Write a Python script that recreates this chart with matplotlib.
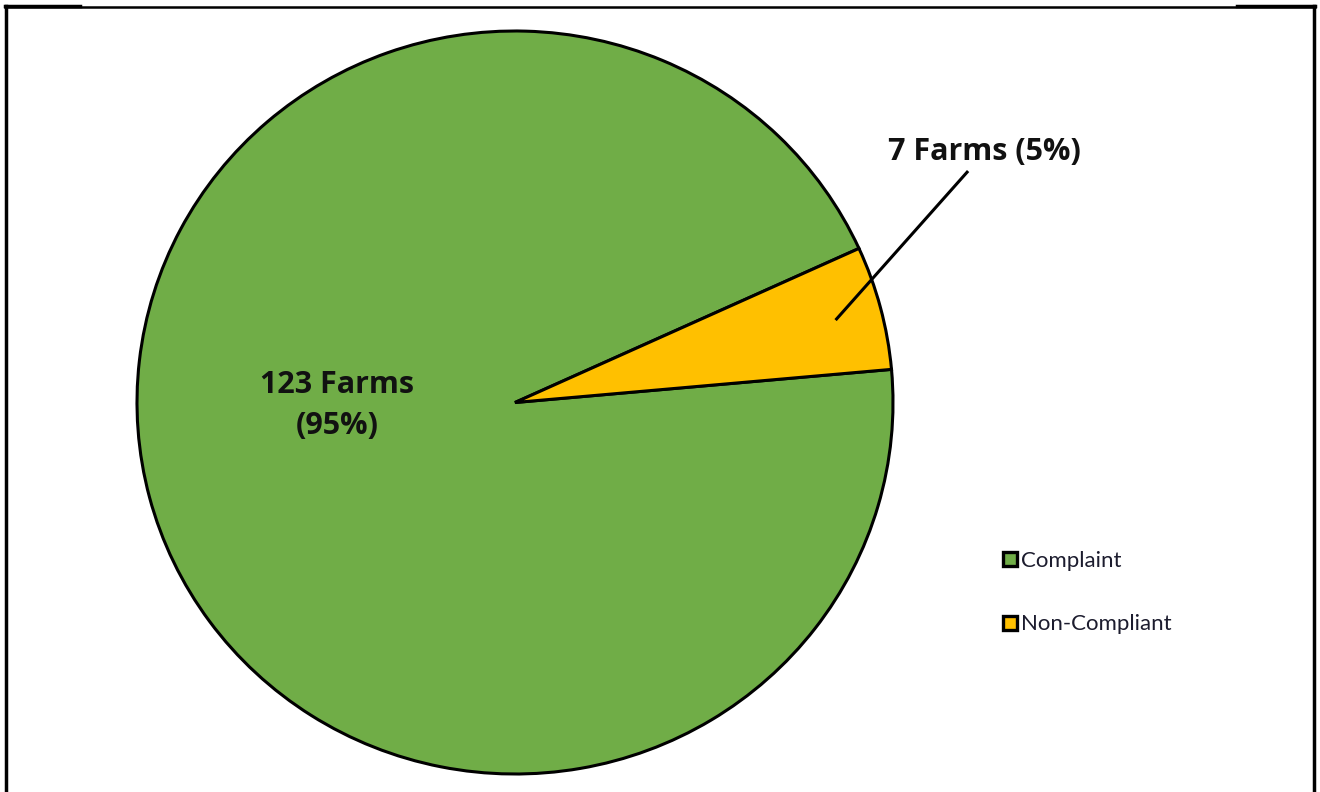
import numpy as np
import matplotlib.pyplot as plt
from matplotlib.lines import Line2D

# Data
labels = ['Complaint', 'Non-Compliant']
farms = [123, 7]
pct_text = ['95%', '5%']
colors = ['#70AD47', '#FFC000']

plt.rcParams['font.family'] = ['Lato', 'DejaVu Sans']

fig = plt.figure(figsize=(13.2, 7.92), dpi=100)

# axes sized to the (slightly oval) pie
ax = fig.add_axes([137 / 1320, 18 / 792, 756 / 1320, 743 / 792])
wedges, _ = ax.pie(farms, colors=colors, startangle=24.5, counterclock=True,
                   wedgeprops=dict(edgecolor='black', linewidth=2.2))
ax.set_aspect('auto')
ax.set_xlim(-1, 1)
ax.set_ylim(-1, 1)

lbl_font = dict(family=['Open Sans', 'DejaVu Sans'], fontsize=22, fontweight='bold',
                color='#111111')

# big slice label
ax.text(-0.47, -0.008, f'{farms[0]} Farms\n({pct_text[0]})', ha='center', va='center',
        linespacing=1.5, **lbl_font)

# small slice label with leader line
w = wedges[1]
mid = np.deg2rad((w.theta1 + w.theta2) / 2)
px, py = 0.88 * np.cos(mid), 0.88 * np.sin(mid)
ax.plot([px, 1.196], [py, 0.620], color='black', lw=2.2, clip_on=False)
ax.text(1.243, 0.674, f'{farms[1]} Farms ({pct_text[1]})', ha='center', va='center',
        **lbl_font)

# legend
handles = [Line2D([], [], marker='s', ls='none', markersize=9.5, markerfacecolor=c,
                  markeredgecolor='black', markeredgewidth=2.4) for c in colors]
fig.legend(handles, labels, loc='upper left', bbox_to_anchor=(990 / 1320, 1 - 540 / 792),
           frameon=False, fontsize=16, handlelength=0.8, handletextpad=0.1,
           labelspacing=1.95, borderpad=0, labelcolor='#1c1c2e')

# outer frame
tf = fig.transFigure
fig.add_artist(Line2D([6 / 1320, 6 / 1320], [0, 1 - 6 / 792], color='black', lw=2.5,
                      transform=tf, zorder=10))
fig.add_artist(Line2D([1314 / 1320, 1314 / 1320], [0, 1 - 6 / 792], color='black', lw=2.5,
                      transform=tf, zorder=10))
fig.add_artist(Line2D([5 / 1320, 1315 / 1320], [1 - 6.5 / 792, 1 - 6.5 / 792], color='black',
                      lw=1.8, transform=tf, zorder=10))
fig.add_artist(Line2D([5 / 1320, 80 / 1320], [1 - 6.3 / 792, 1 - 6.3 / 792], color='black',
                      lw=2.5, transform=tf, zorder=10))
fig.add_artist(Line2D([1237 / 1320, 1315 / 1320], [1 - 6.3 / 792, 1 - 6.3 / 792],
                      color='black', lw=2.5, transform=tf, zorder=10))

fig.savefig('out.png', dpi=100)
